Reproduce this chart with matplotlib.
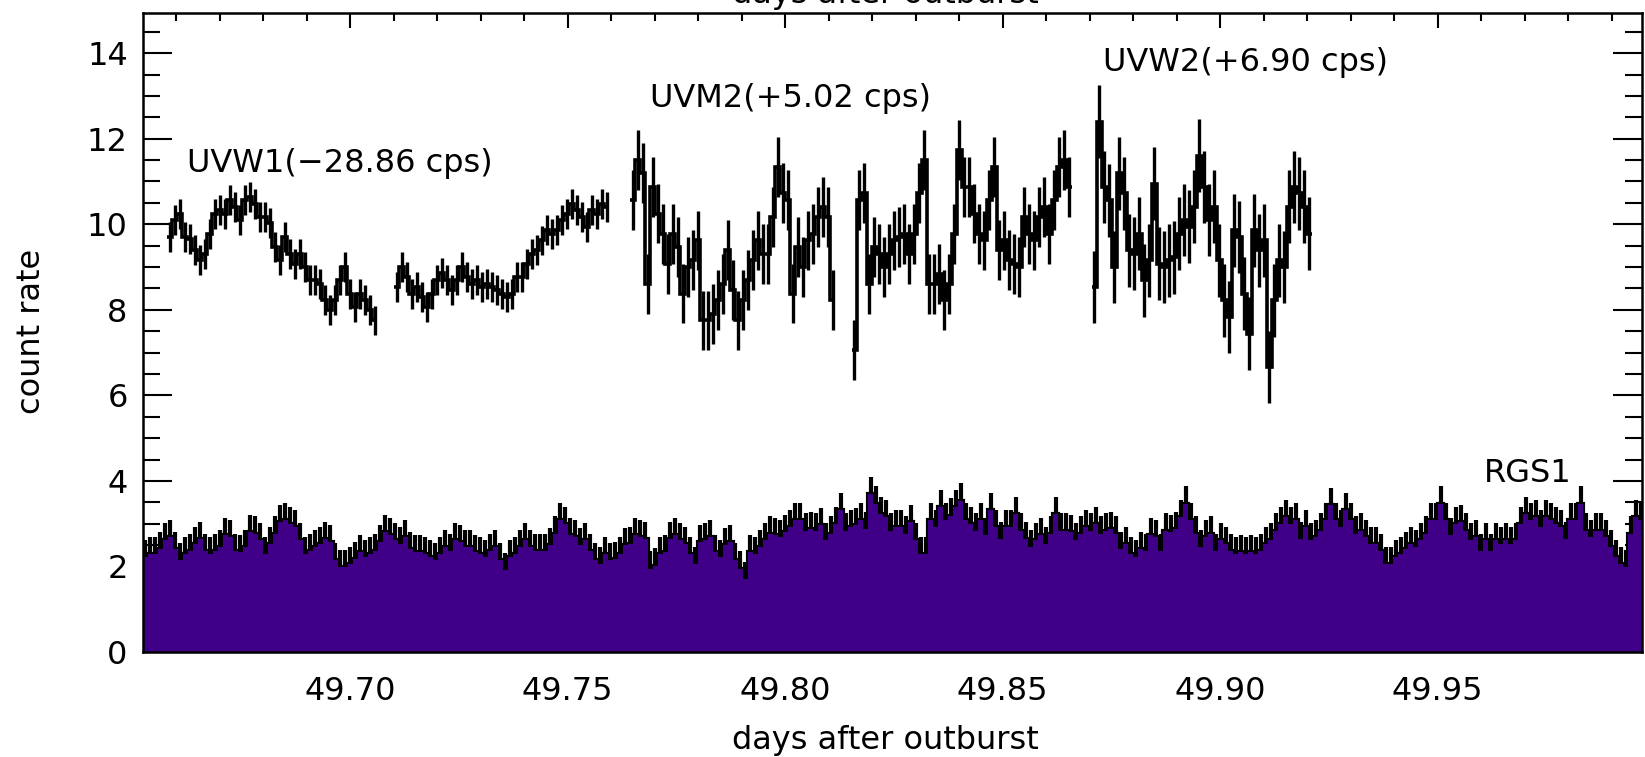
import numpy as np
import matplotlib
matplotlib.use('Agg')
import matplotlib.pyplot as plt
from matplotlib.ticker import MultipleLocator, FormatStrFormatter

plt.rcParams['font.family'] = ['DejaVu Sans']

# ---- OM light curves (UV filters), 5 exposures, bin width dt_uv
dt_uv = 0.00115
uv_starts = [49.65850, 49.71069, 49.76494, 49.81591, 49.87108]
uv_err = [0.35, 0.35, 0.7, 0.7, 0.85]

uvw1_a = [9.70, 10.10, 10.25, 9.70, 9.66, 9.39, 9.16, 9.30, 9.78, 10.25,
          10.33, 10.25, 10.56, 10.41, 10.10, 10.56, 10.64, 10.48, 10.17, 10.17,
          10.02, 9.47, 9.16, 9.70, 9.30, 9.08, 9.30, 9.00, 8.69, 8.69,
          8.61, 8.22, 7.99, 8.22, 8.69, 9.00, 8.38, 8.07, 8.38, 8.22,
          7.99, 7.75]
uvw1_b = [8.53, 9.00, 8.77, 8.38, 8.53, 8.30, 8.07, 8.38, 8.69, 8.85,
          8.69, 8.46, 8.69, 9.00, 8.77, 8.61, 8.69, 8.53, 8.61, 8.53,
          8.46, 8.38, 8.30, 8.38, 8.77, 8.77, 9.08, 9.30, 9.39, 9.62,
          9.86, 9.78, 9.86, 10.10, 10.25, 10.48, 10.33, 10.17, 9.94, 10.33,
          10.25, 10.48, 10.41]
uvm2_a = [10.56, 11.50, 11.20, 8.61, 10.87, 10.25, 9.78, 9.08, 9.78, 9.47,
          8.38, 9.00, 9.16, 9.62, 7.75, 7.75, 7.91, 8.22, 8.61, 9.39,
          8.46, 7.75, 8.22, 8.69, 9.16, 9.62, 9.31, 9.31, 10.17, 11.34,
          10.72, 10.56, 8.38, 9.47, 9.00, 9.62, 9.78, 10.17, 10.41, 10.17,
          8.22]
uvm2_b = [7.05, 10.56, 10.72, 8.61, 9.47, 9.31, 9.00, 9.31, 9.62, 9.70,
          9.78, 9.31, 9.78, 10.72, 11.50, 8.61, 8.61, 8.84, 8.22, 8.61,
          9.78, 11.73, 10.87, 10.87, 10.25, 9.78, 9.62, 10.56, 11.34, 9.39,
          9.62, 9.16, 9.08, 9.00, 10.17, 9.78, 9.62, 10.17, 10.41, 9.78,
          10.56, 11.34, 11.50, 10.87]
uvw2 = [8.53, 12.40, 10.87, 10.56, 9.00, 11.19, 10.72, 9.39, 9.31, 9.78,
        8.69, 9.16, 10.95, 9.08, 9.00, 9.16, 9.23, 9.78, 10.10, 9.94,
        10.41, 11.60, 10.87, 10.10, 10.41, 9.16, 8.22, 7.83, 9.86, 9.70,
        8.38, 7.44, 9.86, 9.39, 9.62, 6.66, 8.22, 9.16, 9.00, 10.41,
        10.87, 10.72, 10.41, 9.78]
uv_segments = [uvw1_a, uvw1_b, uvm2_a, uvm2_b, uvw2]

# ---- RGS1 light curve
rgs_t0 = 49.6529
rgs_dt = 0.00115
rgs_err = 0.4
rgs_rate = [
    2.22, 2.30, 2.30, 2.41, 2.61, 2.69, 2.41, 2.14, 2.30, 2.37,
    2.53, 2.65, 2.37, 2.30, 2.37, 2.45, 2.73, 2.69, 2.37, 2.33,
    2.45, 2.80, 2.77, 2.61, 2.30, 2.53, 2.77, 3.04, 3.08, 3.00,
    2.92, 2.61, 2.30, 2.37, 2.45, 2.53, 2.65, 2.57, 2.14, 1.98,
    1.98, 2.06, 2.18, 2.33, 2.22, 2.30, 2.37, 2.57, 2.80, 2.73,
    2.61, 2.53, 2.69, 2.41, 2.33, 2.33, 2.30, 2.22, 2.14, 2.30,
    2.45, 2.37, 2.61, 2.57, 2.45, 2.45, 2.33, 2.30, 2.22, 2.37,
    2.45, 2.14, 1.91, 2.22, 2.30, 2.45, 2.61, 2.45, 2.37, 2.37,
    2.37, 2.49, 2.77, 3.08, 3.00, 2.73, 2.69, 2.49, 2.61, 2.37,
    2.14, 2.06, 2.30, 2.14, 2.18, 2.30, 2.49, 2.53, 2.73, 2.69,
    2.65, 1.95,
    2.02, 2.30, 2.33, 2.65, 2.73, 2.61, 2.53, 2.30, 2.06, 2.57,
    2.61, 2.69, 2.33, 2.22, 2.49, 2.57, 2.14, 1.95, 1.71, 2.33,
    2.30, 2.45, 2.61, 2.77, 2.73, 2.69, 2.80, 2.92, 3.08, 3.08,
    2.84, 2.88, 2.84, 2.96, 2.61, 2.77, 3.00, 3.31, 2.84, 2.92,
    2.96, 3.08, 2.88, 3.70, 3.47, 3.23, 3.15, 2.84, 2.92, 2.92,
    2.77, 3.04, 2.61, 2.30, 2.30, 3.08, 2.92, 3.39, 3.08, 3.19,
    3.39, 3.54, 3.08, 3.00, 2.84, 3.08, 2.73, 3.31, 2.92, 2.65,
    2.92, 2.92, 3.23, 2.84, 2.65, 2.45, 2.61, 2.73, 2.53, 2.77,
    3.23, 2.84, 2.84, 2.80, 2.61, 2.77, 2.92, 2.84, 3.00, 2.77,
    2.84, 2.88, 2.77, 2.41,
    2.53, 2.30, 2.22, 2.41, 2.37, 2.73, 2.69, 2.37, 2.84, 2.80,
    2.88, 3.15, 3.47, 3.08, 2.77, 2.45, 2.69, 2.77, 2.37, 2.61,
    2.53, 2.37, 2.30, 2.33, 2.30, 2.33, 2.30, 2.37, 2.53, 2.61,
    2.84, 3.00, 3.15, 3.00, 3.08, 2.65, 2.92, 2.61, 2.69, 2.84,
    3.08, 3.43, 3.08, 2.92, 3.31, 3.08, 2.77, 2.84, 2.69, 2.53,
    2.53, 2.37, 2.06, 2.06, 2.22, 2.30, 2.41, 2.53, 2.45, 2.61,
    2.77, 3.08, 3.08, 3.47, 3.08, 2.73, 3.00, 3.04, 2.84, 2.61,
    2.69, 2.37, 2.61, 2.37, 2.61, 2.53, 2.61, 2.53, 2.61, 3.00,
    3.23, 3.08, 3.15, 2.92, 3.15, 3.08, 3.00, 2.92, 2.65, 3.08,
    3.08, 3.47, 2.84, 2.69, 2.84, 2.84, 2.69, 2.45, 2.22, 2.06,
    1.98, 2.77, 3.15, 3.08]

labels = ['UVW1(\u221228.86 cps)', 'UVM2(+5.02 cps)', 'UVW2(+6.90 cps)', 'RGS1']
label_pos = [(49.6625, 11.22), (49.7690, 12.74), (49.8731, 13.58), (49.9607, 3.97)]

purple = '#3f0087'
fs = 23

fig = plt.figure(figsize=(16.45, 7.57), dpi=100)
ax = fig.add_axes([143 / 1645, 1 - 652 / 757, 1499 / 1645, 639.5 / 757])

# RGS1: black histogram + error bars, purple fill on top
rgs = np.array(rgs_rate)
rgs_t = rgs_t0 + np.arange(len(rgs)) * rgs_dt
rgs_edges = np.append(rgs_t - rgs_dt / 2, rgs_t[-1] + rgs_dt / 2)
ax.errorbar(rgs_t, rgs, yerr=rgs_err, fmt='none', ecolor='k', elinewidth=3.0, zorder=1)
ax.stairs(rgs, rgs_edges, baseline=None, color='k', lw=3.0, zorder=1)
ax.stairs(rgs, rgs_edges, baseline=0, fill=True, color=purple, lw=0, zorder=2)

# OM segments
for start, vals, err in zip(uv_starts, uv_segments, uv_err):
    v = np.array(vals)
    t = start + np.arange(len(v)) * dt_uv
    edges = np.append(t - dt_uv / 2, t[-1] + dt_uv / 2)
    ax.errorbar(t, v, yerr=err, fmt='none', ecolor='k', elinewidth=2.4, zorder=3)
    ax.stairs(v, edges, baseline=None, color='k', lw=2.6, zorder=3)

for txt, (x, y) in zip(labels, label_pos):
    ax.text(x, y, txt, fontsize=fs, ha='left', va='baseline', zorder=4)

ax.set_xlim(49.6524, 49.9970)
ax.set_ylim(0, 14.95)
ax.xaxis.set_major_locator(MultipleLocator(0.05))
ax.xaxis.set_minor_locator(MultipleLocator(0.01))
ax.xaxis.set_major_formatter(FormatStrFormatter('%.2f'))
ax.yaxis.set_major_locator(MultipleLocator(2))
ax.yaxis.set_minor_locator(MultipleLocator(0.5))

for s in ax.spines.values():
    s.set_linewidth(1.8)
ax.tick_params(axis='both', which='both', direction='in', top=True, right=True,
               width=1.5, labelsize=fs)
ax.tick_params(axis='x', which='major', length=10.5, pad=17)
ax.tick_params(axis='x', which='minor', length=6)
ax.tick_params(axis='y', which='major', length=21, pad=11)
ax.tick_params(axis='y', which='minor', length=12)

fig.text(32 / 1645, 1 - 331 / 757, 'count rate', rotation=90, ha='center', va='center', fontsize=fs)
fig.text(885 / 1645, 1 - 740 / 757, 'days after outburst', ha='center', va='center', fontsize=fs)
# title of the panel above, cut off by the page edge
fig.text(885 / 1645, 1 + 6 / 757, 'days after outburst', ha='center', va='center', fontsize=fs)

fig.savefig('out.png', dpi=100)
